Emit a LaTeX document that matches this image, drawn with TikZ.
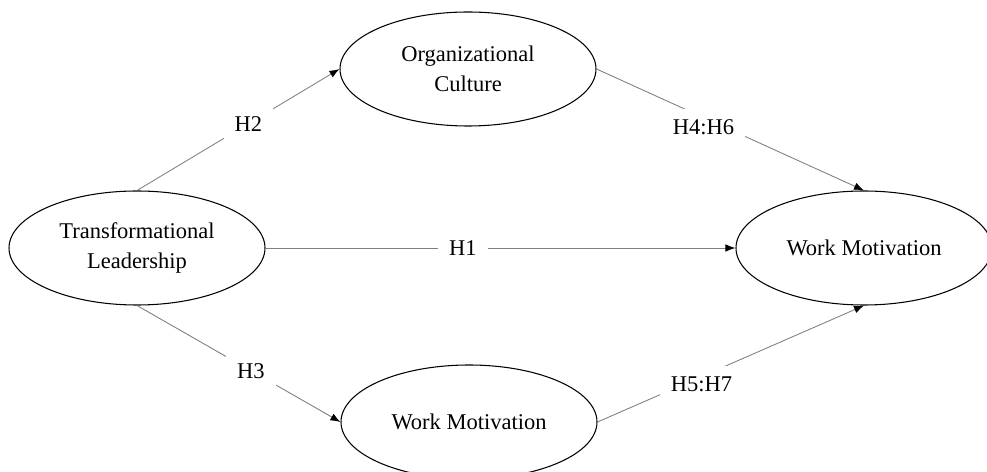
\documentclass[tikz,border=0pt]{standalone}
\usepackage{fontspec}
\setmainfont{Liberation Serif}
\usetikzlibrary{shapes.geometric,arrows.meta}

\tikzset{
	  construct/.style={ ellipse, draw, line width=0.6pt, minimum width=5.12cm, minimum height=2.28cm, inner sep=0pt, align=center, font=\fontsize{12.8}{17}\selectfont },
	  relation/.style={ draw=gray, line width=0.5pt, -{Latex[length=2mm,width=1.5mm,color=black]} },
	  hypo/.style={ fill=white, inner sep=0.22cm, font=\fontsize{12.8}{17}\selectfont }
}

\begin{document}
\begin{tikzpicture}
	  \useasboundingbox (0,0) rectangle (19.74,9.44);

	  \node [ construct ] (leader) at (2.74,4.48) {Transformational\\Leadership};
	  \node [ construct ] (culture) at (9.36,8.06) {Organizational\\Culture};
	  \node [ construct ] (motiv) at (17.28,4.48) {Work Motivation};
	  \node [ construct ] (motivb) at (9.38,1.00) {Work Motivation};

	  \draw [ relation ] (leader.north) -- (culture.west) node [ hypo, pos=0.55 ] {H2};
	  \draw [ relation ] (leader.east) -- (motiv.west) node [ hypo, pos=0.42 ] {H1};
	  \draw [ relation ] (leader.south) -- (motivb.west) node [ hypo, pos=0.56 ] {H3};
	  \draw [ relation ] (culture.east) -- (motiv.north) node [ hypo, pos=0.4, yshift=-0.2cm ] {H4:H6};
	  \draw [ relation ] (motivb.east) -- (motiv.south) node [ hypo, pos=0.39, yshift=-0.16cm ] {H5:H7};
	\end{tikzpicture}
\end{document}
